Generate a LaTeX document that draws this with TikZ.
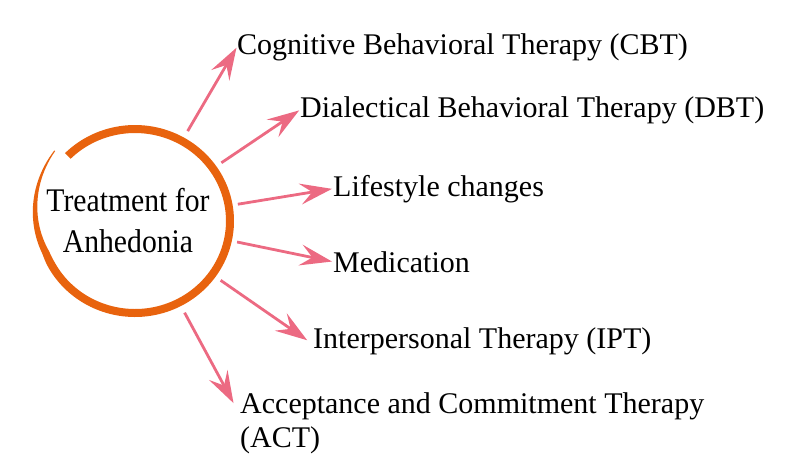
\documentclass[tikz,border=0pt]{standalone}
\usepackage{fontspec}
\setmainfont{Liberation Serif}
\usetikzlibrary{arrows.meta,positioning}
\definecolor{brush}{HTML}{E8630E}
\definecolor{rosy}{HTML}{EC6A82}

\begin{document}
\begin{tikzpicture}[x=1pt,y=-1pt,
  declare function={brushw(\t)=1+7*min(1,(\t+222)/70); brushr(\t)=13*max(0,(-160-\t)/62);},
  therapy/.style={font=\fontsize{30}{34}\selectfont,anchor=base west,inner sep=0pt,align=left},
  link/.style={draw=rosy,line width=2.8pt,shorten >=1pt,-{Stealth[length=32pt,width=21pt,inset=12pt,fill=rosy]}}]
\useasboundingbox (0,0) rectangle (800,475);
% brush circle
\fill[brush] plot[smooth,samples=150,domain=135:-222]
  ({135+(95+brushr(\x)+brushw(\x)/2)*cos(\x)},{221-(92+brushr(\x)+brushw(\x)/2)*sin(\x)})
  -- plot[smooth,samples=150,domain=-222:135]
  ({135+(95+brushr(\x)-brushw(\x)/2)*cos(\x)},{221-(92+brushr(\x)-brushw(\x)/2)*sin(\x)})
  -- cycle;
\node[circle,minimum size=208pt,inner sep=0pt] (hub) at (135,221) {};
\node[font=\fontsize{33}{41}\selectfont,align=center,xscale=0.9] (title) at (128,221) {Treatment for\\Anhedonia};
\node[therapy] (cbt) at (237,54) {Cognitive Behavioral Therapy (CBT)};
\node[therapy] (dbt) at (300,117) {Dialectical Behavioral Therapy (DBT)};
\node[therapy] (life) at (333,196) {Lifestyle changes};
\node[therapy] (med) at (333,272) {Medication};
\node[therapy] (ipt) at (313,348) {Interpersonal Therapy (IPT)};
\node[therapy] (act) at (240,447) {Acceptance and Commitment Therapy\\(ACT)};
\coordinate (actin) at ([xshift=-6pt,yshift=43pt]act.base west);
\draw[link] (hub) -- (cbt.west);
\draw[link] (hub) -- (dbt.west);
\draw[link] (hub) -- (life.west);
\draw[link] (hub) -- (med.west);
\draw[link] (hub) -- ([xshift=-5pt]ipt.west);
\draw[link] (hub) -- (actin);
\end{tikzpicture}
\end{document}
